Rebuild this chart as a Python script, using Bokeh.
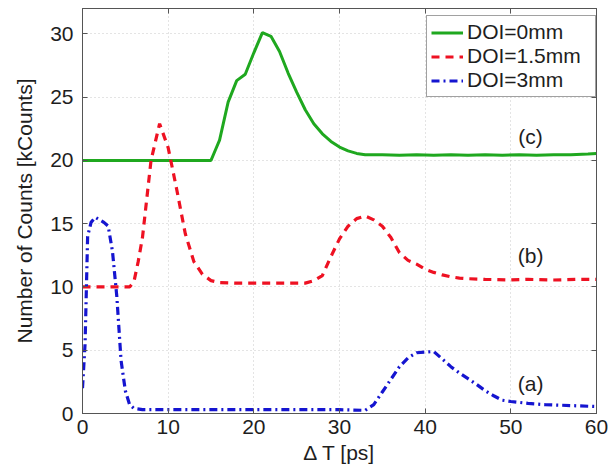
from bokeh.plotting import figure
from bokeh.models import LinearAxis, Range1d, FixedTicker, Legend, LegendItem, ColumnDataSource, Grid
from bokeh.core.properties import value
from bokeh.embed import file_html
from bokeh.resources import INLINE

# ---- data ----
x_doi0 = [0, 15, 15.5, 16, 17, 18, 19, 20, 21, 22, 23, 24, 25, 26, 27, 28, 29, 30, 31, 32, 33,
          35, 37, 39, 41, 43, 45, 47, 49, 51, 53, 55, 57, 59, 60]
y_doi0 = [20, 20, 20.8, 21.6, 24.6, 26.3, 26.8, 28.5, 30.1, 29.8, 28.6, 26.9, 25.4, 24.0, 22.9, 22.1,
          21.5, 21.05, 20.75, 20.55, 20.45, 20.45, 20.4, 20.45, 20.4, 20.45, 20.4, 20.45, 20.4,
          20.45, 20.4, 20.45, 20.45, 20.5, 20.55]

x_doi15 = [0, 5.5, 6, 6.5, 7, 8, 9, 10, 11, 12, 13, 14, 15, 16, 18, 20, 22, 24, 26, 27, 28, 29,
           30, 31, 32, 33, 34, 35, 36, 37, 38, 39, 40, 41, 42, 43, 44, 45, 47, 50, 52, 55, 58, 60]
y_doi15 = [10, 10, 10.4, 12.0, 13.9, 20.0, 22.9, 21.0, 17.7, 14.2, 12.0, 11.0, 10.5, 10.35, 10.3,
           10.3, 10.3, 10.3, 10.3, 10.5, 10.9, 12.4, 13.8, 14.8, 15.4, 15.6, 15.3, 14.8, 13.9, 12.7,
           12.1, 11.8, 11.4, 11.15, 10.95, 10.8, 10.7, 10.65, 10.6, 10.55, 10.6, 10.55, 10.6, 10.6]

x_doi3 = [0, 0.3, 0.6, 1.0, 1.5, 2.0, 2.5, 3.0, 3.5, 4.0, 4.5, 5.0, 5.5, 6, 7, 10, 15, 20, 25, 30,
          33, 34, 35, 36, 37, 38, 39, 40, 41, 42, 43, 44, 45, 46, 47, 48, 49, 50, 52, 54, 56, 58, 60]
y_doi3 = [2.0, 5.5, 14.0, 15.1, 15.5, 15.3, 15.1, 14.8, 12.8, 9.3, 4.2, 1.8, 0.7, 0.4, 0.3, 0.3, 0.3,
          0.3, 0.3, 0.3, 0.25, 0.7, 1.7, 2.7, 3.7, 4.4, 4.8, 4.85, 4.9, 4.3, 3.7, 3.2, 2.75, 2.3,
          1.8, 1.4, 1.05, 0.95, 0.8, 0.7, 0.65, 0.6, 0.55]

series_labels = ["DOI=0mm", "DOI=1.5mm", "DOI=3mm"]
annot_text = ["(c)", "(b)", "(a)"]
annot_x = [52.3, 52.3, 52.3]
annot_y = [21.9, 12.5, 2.4]
x_ticks = [0, 10, 20, 30, 40, 50, 60]
y_ticks = [0, 5, 10, 15, 20, 25, 30]

FONT = "Liberation Sans"
FS = "21px"
TXT = "#1e1e1e"

p = figure(width=616, height=476, output_backend="svg", toolbar_location=None,
           x_range=Range1d(0, 60), y_range=Range1d(0, 32),
           min_border_top=8, min_border_right=20, min_border_left=82, min_border_bottom=63)
p.xaxis.visible = False
p.yaxis.visible = False
p.xgrid.visible = False
p.ygrid.visible = False
p.outline_line_color = "#555555"
p.outline_line_width = 1
p.background_fill_color = "white"
p.border_fill_color = "white"

def make_axis(loc, ticks, label, show_labels, lab_standoff=7, axl_standoff=6):
    ax = LinearAxis(ticker=FixedTicker(ticks=ticks))
    ax.axis_line_color = "#555555"
    ax.major_tick_in = 5
    ax.major_tick_out = 0
    ax.major_tick_line_color = "#555555"
    ax.minor_tick_line_color = None
    if show_labels:
        ax.major_label_text_font = FONT
        ax.major_label_text_font_size = FS
        ax.major_label_text_color = TXT
        ax.major_label_standoff = lab_standoff
        ax.axis_label = label
        ax.axis_label_text_font = FONT
        ax.axis_label_text_font_size = FS
        ax.axis_label_text_font_style = "normal"
        ax.axis_label_text_color = TXT
        ax.axis_label_standoff = axl_standoff
    else:
        ax.major_label_overrides = {t: "" for t in ticks}
        ax.major_label_standoff = 0
    p.add_layout(ax, loc)
    return ax

make_axis("below", x_ticks, "\u0394 T [ps]", True, lab_standoff=6, axl_standoff=4)
make_axis("left", y_ticks, "Number of Counts [kCounts]", True, lab_standoff=9, axl_standoff=11)
make_axis("above", x_ticks, "", False)
make_axis("right", y_ticks, "", False)

gx = Grid(dimension=0, ticker=FixedTicker(ticks=x_ticks[1:-1]), grid_line_color="#c8c8c8",
          grid_line_dash="1 3", grid_line_width=1)
gy = Grid(dimension=1, ticker=FixedTicker(ticks=y_ticks[1:]), grid_line_color="#c8c8c8",
          grid_line_dash="1 3", grid_line_width=1)
p.add_layout(gx)
p.add_layout(gy)

r0 = p.line(x_doi0, y_doi0, line_color="#1fa81f", line_width=3)
r1 = p.line(x_doi15, y_doi15, line_color="#ee1122", line_width=3.2, line_dash="8 6")
r2 = p.line(x_doi3, y_doi3, line_color="#1515d0", line_width=3.2, line_dash="8 4 2 4")

src = ColumnDataSource(dict(x=annot_x, y=annot_y, t=annot_text))
p.text(x="x", y="y", text="t", source=src, text_align="center", text_baseline="middle",
       text_font=value(FONT), text_font_size=FS, text_color=TXT)

legend = Legend(items=[LegendItem(label=series_labels[0], renderers=[r0]),
                       LegendItem(label=series_labels[1], renderers=[r1]),
                       LegendItem(label=series_labels[2], renderers=[r2])],
                location=(344, 316))
legend.margin = 0
legend.padding = 4
legend.spacing = 0
legend.glyph_width = 32
legend.glyph_height = 21
legend.label_height = 21
legend.label_width = 124
legend.label_standoff = 4
legend.label_text_font = FONT
legend.label_text_font_size = FS
legend.label_text_color = TXT
legend.border_line_color = "#444444"
legend.border_line_width = 1
legend.background_fill_alpha = 1
p.add_layout(legend, "center")

open("out.html", "w").write(file_html(p, INLINE))
